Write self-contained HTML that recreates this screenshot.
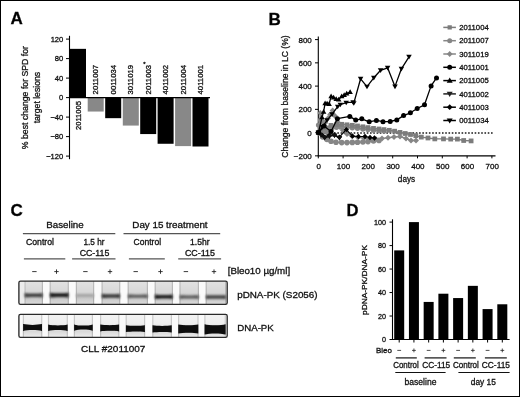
<!DOCTYPE html>
<html><head><meta charset="utf-8"><style>
html,body{margin:0;padding:0;background:#fff;}
body{width:520px;height:397px;overflow:hidden;}
svg{display:block;font-family:"Liberation Sans", sans-serif;}
text{stroke:#111;stroke-width:0.3px;}
svg{filter:grayscale(1);}
</style></head><body>
<svg width="520" height="397" viewBox="0 0 520 397" fill="#111">
<defs><filter id="bl" x="-20%" y="-50%" width="140%" height="200%"><feGaussianBlur stdDeviation="0.8"/></filter><filter id="bl2" x="-20%" y="-50%" width="140%" height="200%"><feGaussianBlur stdDeviation="0.6"/></filter><linearGradient id="lg1" x1="0" y1="281.1" x2="0" y2="304.4" gradientUnits="userSpaceOnUse"><stop offset="0" stop-color="#e2e2e2"/><stop offset="0.45" stop-color="#d8d8d8"/><stop offset="0.62" stop-color="#cfcfcf"/><stop offset="0.72" stop-color="#c9c9c9"/><stop offset="0.9" stop-color="#d3d3d3"/><stop offset="1" stop-color="#dcdcdc"/></linearGradient><linearGradient id="lg2" x1="0" y1="314.3" x2="0" y2="337.4" gradientUnits="userSpaceOnUse"><stop offset="0" stop-color="#f3f3f3"/><stop offset="0.4" stop-color="#eeeeee"/><stop offset="0.55" stop-color="#e4e4e4"/><stop offset="0.75" stop-color="#d9d9d9"/><stop offset="0.88" stop-color="#e3e3e3"/><stop offset="1" stop-color="#ededed"/></linearGradient></defs>
<rect x="0" y="0" width="520" height="397" fill="#fff"/>
<rect x="18.90" y="281.10" width="208.30" height="23.30" fill="#fafafa"/>
<rect x="24.30" y="281.10" width="18.70" height="23.30" fill="url(#lg1)"/>
<rect x="24.30" y="281.10" width="1.2" height="23.30" fill="#000" opacity="0.16"/>
<rect x="41.80" y="281.10" width="1.2" height="23.30" fill="#000" opacity="0.16"/>
<rect x="49.60" y="281.10" width="19.30" height="23.30" fill="url(#lg1)"/>
<rect x="49.60" y="281.10" width="1.2" height="23.30" fill="#000" opacity="0.16"/>
<rect x="67.70" y="281.10" width="1.2" height="23.30" fill="#000" opacity="0.16"/>
<rect x="75.80" y="281.10" width="18.40" height="23.30" fill="url(#lg1)"/>
<rect x="75.80" y="281.10" width="1.2" height="23.30" fill="#000" opacity="0.16"/>
<rect x="93.00" y="281.10" width="1.2" height="23.30" fill="#000" opacity="0.16"/>
<rect x="101.50" y="281.10" width="18.80" height="23.30" fill="url(#lg1)"/>
<rect x="101.50" y="281.10" width="1.2" height="23.30" fill="#000" opacity="0.16"/>
<rect x="119.10" y="281.10" width="1.2" height="23.30" fill="#000" opacity="0.16"/>
<rect x="127.60" y="281.10" width="20.40" height="23.30" fill="url(#lg1)"/>
<rect x="127.60" y="281.10" width="1.2" height="23.30" fill="#000" opacity="0.16"/>
<rect x="146.80" y="281.10" width="1.2" height="23.30" fill="#000" opacity="0.16"/>
<rect x="154.60" y="281.10" width="18.40" height="23.30" fill="url(#lg1)"/>
<rect x="154.60" y="281.10" width="1.2" height="23.30" fill="#000" opacity="0.16"/>
<rect x="171.80" y="281.10" width="1.2" height="23.30" fill="#000" opacity="0.16"/>
<rect x="179.40" y="281.10" width="19.60" height="23.30" fill="url(#lg1)"/>
<rect x="179.40" y="281.10" width="1.2" height="23.30" fill="#000" opacity="0.16"/>
<rect x="197.80" y="281.10" width="1.2" height="23.30" fill="#000" opacity="0.16"/>
<rect x="205.60" y="281.10" width="20.60" height="23.30" fill="url(#lg1)"/>
<rect x="205.60" y="281.10" width="1.2" height="23.30" fill="#000" opacity="0.16"/>
<rect x="225.00" y="281.10" width="1.2" height="23.30" fill="#000" opacity="0.16"/>
<rect x="18.90" y="314.30" width="208.30" height="23.10" fill="#fafafa"/>
<rect x="22.80" y="314.30" width="19.50" height="23.10" fill="url(#lg2)"/>
<rect x="22.80" y="314.30" width="1.2" height="23.10" fill="#000" opacity="0.16"/>
<rect x="41.10" y="314.30" width="1.2" height="23.10" fill="#000" opacity="0.16"/>
<rect x="47.90" y="314.30" width="20.00" height="23.10" fill="url(#lg2)"/>
<rect x="47.90" y="314.30" width="1.2" height="23.10" fill="#000" opacity="0.16"/>
<rect x="66.70" y="314.30" width="1.2" height="23.10" fill="#000" opacity="0.16"/>
<rect x="73.80" y="314.30" width="19.20" height="23.10" fill="url(#lg2)"/>
<rect x="73.80" y="314.30" width="1.2" height="23.10" fill="#000" opacity="0.16"/>
<rect x="91.80" y="314.30" width="1.2" height="23.10" fill="#000" opacity="0.16"/>
<rect x="100.00" y="314.30" width="19.40" height="23.10" fill="url(#lg2)"/>
<rect x="100.00" y="314.30" width="1.2" height="23.10" fill="#000" opacity="0.16"/>
<rect x="118.20" y="314.30" width="1.2" height="23.10" fill="#000" opacity="0.16"/>
<rect x="125.60" y="314.30" width="19.60" height="23.10" fill="url(#lg2)"/>
<rect x="125.60" y="314.30" width="1.2" height="23.10" fill="#000" opacity="0.16"/>
<rect x="144.00" y="314.30" width="1.2" height="23.10" fill="#000" opacity="0.16"/>
<rect x="152.20" y="314.30" width="19.80" height="23.10" fill="url(#lg2)"/>
<rect x="152.20" y="314.30" width="1.2" height="23.10" fill="#000" opacity="0.16"/>
<rect x="170.80" y="314.30" width="1.2" height="23.10" fill="#000" opacity="0.16"/>
<rect x="178.00" y="314.30" width="20.60" height="23.10" fill="url(#lg2)"/>
<rect x="178.00" y="314.30" width="1.2" height="23.10" fill="#000" opacity="0.16"/>
<rect x="197.40" y="314.30" width="1.2" height="23.10" fill="#000" opacity="0.16"/>
<rect x="204.30" y="314.30" width="21.60" height="23.10" fill="url(#lg2)"/>
<rect x="204.30" y="314.30" width="1.2" height="23.10" fill="#000" opacity="0.16"/>
<rect x="224.70" y="314.30" width="1.2" height="23.10" fill="#000" opacity="0.16"/>
<rect x="19.5" y="281.8" width="4.8" height="22.0" fill="#ececec"/>
<g filter="url(#bl)"><path d="M24.60,293.10 C28.58,293.80 38.72,293.80 42.70,293.10 L42.70,297.50 C38.72,296.80 28.58,296.80 24.60,297.50 Z" fill="#404040"/><path d="M49.90,292.70 C54.01,293.40 64.49,293.40 68.60,292.70 L68.60,297.50 C64.49,296.80 54.01,296.80 49.90,297.50 Z" fill="#1c1c1c"/><path d="M76.10,293.80 C80.02,294.20 89.98,294.20 93.90,293.80 L93.90,297.20 C89.98,296.80 80.02,296.80 76.10,297.20 Z" fill="#a5a5a5"/><path d="M101.80,293.80 C105.80,294.50 116.00,294.50 120.00,293.80 L120.00,298.20 C116.00,297.50 105.80,297.50 101.80,298.20 Z" fill="#3a3a3a"/><path d="M127.90,294.30 C132.26,294.90 143.34,294.90 147.70,294.30 L147.70,298.30 C143.34,297.70 132.26,297.70 127.90,298.30 Z" fill="#5a5a5a"/><path d="M154.90,294.50 C158.82,295.20 168.78,295.20 172.70,294.50 L172.70,299.10 C168.78,298.40 158.82,298.40 154.90,299.10 Z" fill="#1e1e1e"/><path d="M179.70,295.00 C183.88,295.60 194.52,295.60 198.70,295.00 L198.70,299.00 C194.52,298.40 183.88,298.40 179.70,299.00 Z" fill="#585858"/><path d="M205.90,294.90 C210.30,295.50 221.50,295.50 225.90,294.90 L225.90,299.10 C221.50,298.50 210.30,298.50 205.90,299.10 Z" fill="#464646"/></g>
<g filter="url(#bl2)"><path d="M23.10,324.10 C27.26,325.20 37.84,325.20 42.00,324.10 L42.00,330.90 C37.84,329.80 27.26,329.80 23.10,330.90 Z" fill="#080808"/><path d="M48.20,324.60 C52.47,325.80 63.33,325.80 67.60,324.60 L67.60,331.00 C63.33,329.80 52.47,329.80 48.20,331.00 Z" fill="#080808"/><path d="M74.10,324.40 C78.19,326.00 88.61,326.00 92.70,324.40 L92.70,330.80 C88.61,329.20 78.19,329.20 74.10,330.80 Z" fill="#080808"/><path d="M100.30,324.60 C104.44,325.40 114.96,325.40 119.10,324.60 L119.10,331.40 C114.96,330.60 104.44,330.60 100.30,331.40 Z" fill="#080808"/><path d="M125.90,325.20 C130.08,326.00 140.72,326.00 144.90,325.20 L144.90,332.00 C140.72,331.20 130.08,331.20 125.90,332.00 Z" fill="#080808"/><path d="M152.50,325.30 C156.72,326.10 167.48,326.10 171.70,325.30 L171.70,332.50 C167.48,331.70 156.72,331.70 152.50,332.50 Z" fill="#080808"/><path d="M178.30,324.40 C182.70,325.40 193.90,325.40 198.30,324.40 L198.30,333.60 C193.90,332.60 182.70,332.60 178.30,333.60 Z" fill="#080808"/><path d="M204.60,324.20 C209.22,325.70 220.98,325.70 225.60,324.20 L225.60,334.60 C220.98,333.10 209.22,333.10 204.60,334.60 Z" fill="#080808"/></g>
<rect x="18.90" y="281.10" width="208.30" height="23.30" fill="none" stroke="#2a2a2a" stroke-width="1.35" rx="1.6"/>
<rect x="18.90" y="314.30" width="208.30" height="23.10" fill="none" stroke="#2a2a2a" stroke-width="1.35" rx="1.6"/>
<text x="10.60" y="24.30" font-size="17" font-weight="bold" fill="#000">A</text>
<line x1="69.50" y1="35.80" x2="69.50" y2="159.20" stroke="#000" stroke-width="1.1"/>
<line x1="66.00" y1="39.10" x2="69.50" y2="39.10" stroke="#000" stroke-width="1.0"/>
<text x="63.30" y="41.85" font-size="7.6" text-anchor="end">120</text>
<line x1="66.00" y1="58.60" x2="69.50" y2="58.60" stroke="#000" stroke-width="1.0"/>
<text x="63.30" y="61.35" font-size="7.6" text-anchor="end">80</text>
<line x1="66.00" y1="78.10" x2="69.50" y2="78.10" stroke="#000" stroke-width="1.0"/>
<text x="63.30" y="80.85" font-size="7.6" text-anchor="end">40</text>
<line x1="66.00" y1="97.60" x2="69.50" y2="97.60" stroke="#000" stroke-width="1.0"/>
<text x="63.30" y="100.35" font-size="7.6" text-anchor="end">0</text>
<line x1="66.00" y1="117.10" x2="69.50" y2="117.10" stroke="#000" stroke-width="1.0"/>
<text x="63.30" y="119.85" font-size="7.6" text-anchor="end">−40</text>
<line x1="66.00" y1="136.60" x2="69.50" y2="136.60" stroke="#000" stroke-width="1.0"/>
<text x="63.30" y="139.35" font-size="7.6" text-anchor="end">−80</text>
<line x1="66.00" y1="156.10" x2="69.50" y2="156.10" stroke="#000" stroke-width="1.0"/>
<text x="63.30" y="158.85" font-size="7.6" text-anchor="end">−120</text>
<rect x="70.00" y="48.85" width="16.00" height="48.75" fill="#000"/>
<rect x="87.70" y="97.60" width="16.00" height="13.94" fill="#888"/>
<rect x="105.20" y="97.60" width="16.00" height="20.57" fill="#000"/>
<rect x="122.80" y="97.60" width="16.00" height="27.98" fill="#888"/>
<rect x="140.20" y="97.60" width="16.00" height="36.47" fill="#000"/>
<rect x="157.60" y="97.60" width="16.00" height="46.17" fill="#000"/>
<rect x="175.10" y="97.60" width="16.00" height="48.51" fill="#888"/>
<rect x="192.50" y="97.60" width="16.00" height="48.90" fill="#000"/>
<line x1="69.50" y1="97.60" x2="210.00" y2="97.60" stroke="#000" stroke-width="1.2"/>
<text x="80.60" y="101.00" font-size="7.4" text-anchor="end" textLength="29.00" lengthAdjust="spacingAndGlyphs" transform="rotate(-90 80.60 101.00)">2011005</text>
<text x="98.30" y="94.40" font-size="7.4" textLength="29.40" lengthAdjust="spacingAndGlyphs" transform="rotate(-90 98.30 94.40)">2011007</text>
<text x="115.80" y="94.40" font-size="7.4" textLength="29.40" lengthAdjust="spacingAndGlyphs" transform="rotate(-90 115.80 94.40)">0011034</text>
<text x="133.40" y="94.40" font-size="7.4" textLength="29.40" lengthAdjust="spacingAndGlyphs" transform="rotate(-90 133.40 94.40)">3011019</text>
<text x="150.80" y="94.40" font-size="7.4" textLength="29.40" lengthAdjust="spacingAndGlyphs" transform="rotate(-90 150.80 94.40)">2011003</text>
<text x="168.20" y="94.40" font-size="7.4" textLength="29.40" lengthAdjust="spacingAndGlyphs" transform="rotate(-90 168.20 94.40)">4011002</text>
<text x="185.70" y="94.40" font-size="7.4" textLength="29.40" lengthAdjust="spacingAndGlyphs" transform="rotate(-90 185.70 94.40)">2011004</text>
<text x="203.10" y="94.40" font-size="7.4" textLength="29.40" lengthAdjust="spacingAndGlyphs" transform="rotate(-90 203.10 94.40)">4011001</text>
<text x="143.20" y="65.70" font-size="6">*</text>
<text x="27.70" y="97.60" font-size="9.7" text-anchor="middle" textLength="103.20" lengthAdjust="spacingAndGlyphs" transform="rotate(-90 27.70 97.60)">% best change for SPD for</text>
<text x="39.80" y="97.60" font-size="9.7" text-anchor="middle" textLength="51.50" lengthAdjust="spacingAndGlyphs" transform="rotate(-90 39.80 97.60)">target lesions</text>
<text x="268.40" y="24.60" font-size="17" font-weight="bold" fill="#000">B</text>
<line x1="318.30" y1="36.50" x2="318.30" y2="156.00" stroke="#000" stroke-width="1.1"/>
<line x1="317.75" y1="155.85" x2="495.50" y2="155.85" stroke="#000" stroke-width="1.1"/>
<line x1="315.00" y1="39.60" x2="318.30" y2="39.60" stroke="#000" stroke-width="1.0"/>
<text x="311.80" y="42.50" font-size="8.0" text-anchor="end">800</text>
<line x1="315.00" y1="62.85" x2="318.30" y2="62.85" stroke="#000" stroke-width="1.0"/>
<text x="311.80" y="65.75" font-size="8.0" text-anchor="end">600</text>
<line x1="315.00" y1="86.10" x2="318.30" y2="86.10" stroke="#000" stroke-width="1.0"/>
<text x="311.80" y="89.00" font-size="8.0" text-anchor="end">400</text>
<line x1="315.00" y1="109.35" x2="318.30" y2="109.35" stroke="#000" stroke-width="1.0"/>
<text x="311.80" y="112.25" font-size="8.0" text-anchor="end">200</text>
<line x1="315.00" y1="132.60" x2="318.30" y2="132.60" stroke="#000" stroke-width="1.0"/>
<text x="311.80" y="135.50" font-size="8.0" text-anchor="end">0</text>
<line x1="315.00" y1="155.85" x2="318.30" y2="155.85" stroke="#000" stroke-width="1.0"/>
<text x="311.80" y="158.75" font-size="8.0" text-anchor="end">−200</text>
<line x1="318.30" y1="155.85" x2="318.30" y2="158.35" stroke="#000" stroke-width="1.0"/>
<text x="318.70" y="169.30" font-size="8.0" text-anchor="middle">0</text>
<line x1="343.10" y1="155.85" x2="343.10" y2="158.35" stroke="#000" stroke-width="1.0"/>
<text x="343.50" y="169.30" font-size="8.0" text-anchor="middle">100</text>
<line x1="367.90" y1="155.85" x2="367.90" y2="158.35" stroke="#000" stroke-width="1.0"/>
<text x="368.30" y="169.30" font-size="8.0" text-anchor="middle">200</text>
<line x1="392.70" y1="155.85" x2="392.70" y2="158.35" stroke="#000" stroke-width="1.0"/>
<text x="393.10" y="169.30" font-size="8.0" text-anchor="middle">300</text>
<line x1="417.50" y1="155.85" x2="417.50" y2="158.35" stroke="#000" stroke-width="1.0"/>
<text x="417.90" y="169.30" font-size="8.0" text-anchor="middle">400</text>
<line x1="442.30" y1="155.85" x2="442.30" y2="158.35" stroke="#000" stroke-width="1.0"/>
<text x="442.70" y="169.30" font-size="8.0" text-anchor="middle">500</text>
<line x1="467.10" y1="155.85" x2="467.10" y2="158.35" stroke="#000" stroke-width="1.0"/>
<text x="467.50" y="169.30" font-size="8.0" text-anchor="middle">600</text>
<line x1="491.90" y1="155.85" x2="491.90" y2="158.35" stroke="#000" stroke-width="1.0"/>
<text x="492.30" y="169.30" font-size="8.0" text-anchor="middle">700</text>
<text x="406.50" y="182.30" font-size="9.0" text-anchor="middle" textLength="17.30" lengthAdjust="spacingAndGlyphs">days</text>
<text x="288.40" y="96.50" font-size="8.8" text-anchor="middle" textLength="122.50" lengthAdjust="spacingAndGlyphs" transform="rotate(-90 288.40 96.50)">Change from baseline in LC (%)</text>
<line x1="317.70" y1="133.0" x2="493.0" y2="133.0" stroke="#1a1a1a" stroke-width="1.6" stroke-dasharray="1.6 1.67"/>
<polyline points="318.50,132.60 321.00,131.00 324.00,129.50 328.00,128.50 332.00,127.80 336.50,127.20 341.70,127.00 347.00,127.30 352.30,127.80 357.50,128.30 362.90,129.00 368.00,129.60 373.50,130.20 379.00,130.60 384.00,131.00" fill="none" stroke="#868686" stroke-width="1.4" stroke-linejoin="round"/>
<circle cx="318.50" cy="132.60" r="2.70" fill="#868686"/>
<circle cx="321.00" cy="131.00" r="2.70" fill="#868686"/>
<circle cx="324.00" cy="129.50" r="2.70" fill="#868686"/>
<circle cx="328.00" cy="128.50" r="2.70" fill="#868686"/>
<circle cx="332.00" cy="127.80" r="2.70" fill="#868686"/>
<circle cx="336.50" cy="127.20" r="2.70" fill="#868686"/>
<circle cx="341.70" cy="127.00" r="2.70" fill="#868686"/>
<circle cx="347.00" cy="127.30" r="2.70" fill="#868686"/>
<circle cx="352.30" cy="127.80" r="2.70" fill="#868686"/>
<circle cx="357.50" cy="128.30" r="2.70" fill="#868686"/>
<circle cx="362.90" cy="129.00" r="2.70" fill="#868686"/>
<circle cx="368.00" cy="129.60" r="2.70" fill="#868686"/>
<circle cx="373.50" cy="130.20" r="2.70" fill="#868686"/>
<circle cx="379.00" cy="130.60" r="2.70" fill="#868686"/>
<circle cx="384.00" cy="131.00" r="2.70" fill="#868686"/>
<polyline points="318.50,125.00 320.50,120.00 322.50,127.00 325.00,131.00 328.00,133.50 331.00,131.00" fill="none" stroke="#868686" stroke-width="1.4" stroke-linejoin="round"/>
<circle cx="318.50" cy="125.00" r="2.60" fill="#868686"/>
<circle cx="320.50" cy="120.00" r="2.60" fill="#868686"/>
<circle cx="322.50" cy="127.00" r="2.60" fill="#868686"/>
<circle cx="325.00" cy="131.00" r="2.60" fill="#868686"/>
<circle cx="328.00" cy="133.50" r="2.60" fill="#868686"/>
<circle cx="331.00" cy="131.00" r="2.60" fill="#868686"/>
<polyline points="318.50,132.60 322.70,137.00 327.00,139.50 331.00,141.30 336.00,142.20 341.70,142.60 347.00,142.60 352.30,142.40 357.50,142.20 362.90,142.00 368.00,141.60 373.50,141.00 379.00,140.40" fill="none" stroke="#868686" stroke-width="1.4" stroke-linejoin="round"/>
<circle cx="318.50" cy="132.60" r="2.80" fill="#868686"/>
<circle cx="322.70" cy="137.00" r="2.80" fill="#868686"/>
<circle cx="327.00" cy="139.50" r="2.80" fill="#868686"/>
<circle cx="331.00" cy="141.30" r="2.80" fill="#868686"/>
<circle cx="336.00" cy="142.20" r="2.80" fill="#868686"/>
<circle cx="341.70" cy="142.60" r="2.80" fill="#868686"/>
<circle cx="347.00" cy="142.60" r="2.80" fill="#868686"/>
<circle cx="352.30" cy="142.40" r="2.80" fill="#868686"/>
<circle cx="357.50" cy="142.20" r="2.80" fill="#868686"/>
<circle cx="362.90" cy="142.00" r="2.80" fill="#868686"/>
<circle cx="368.00" cy="141.60" r="2.80" fill="#868686"/>
<circle cx="373.50" cy="141.00" r="2.80" fill="#868686"/>
<circle cx="379.00" cy="140.40" r="2.80" fill="#868686"/>
<polyline points="318.50,132.60 320.30,113.00 322.50,121.00 325.00,123.00 328.00,118.20 330.20,114.50 332.60,110.50 335.00,116.00 337.50,122.00 340.00,127.00 343.00,130.50 347.00,134.00 352.00,136.00 358.00,137.20 364.00,138.00 370.00,138.80 376.00,139.20 382.00,138.50 388.00,137.80 394.00,137.00 400.00,136.50 406.00,138.50 411.00,140.50 416.00,140.50" fill="none" stroke="#868686" stroke-width="1.4" stroke-linejoin="round"/>
<polygon points="318.50,129.61 321.49,132.60 318.50,135.59 315.51,132.60" fill="#868686"/>
<polygon points="320.30,110.01 323.29,113.00 320.30,115.99 317.31,113.00" fill="#868686"/>
<polygon points="322.50,118.01 325.49,121.00 322.50,123.99 319.51,121.00" fill="#868686"/>
<polygon points="325.00,120.01 327.99,123.00 325.00,125.99 322.01,123.00" fill="#868686"/>
<polygon points="328.00,115.21 330.99,118.20 328.00,121.19 325.01,118.20" fill="#868686"/>
<polygon points="330.20,111.51 333.19,114.50 330.20,117.49 327.21,114.50" fill="#868686"/>
<polygon points="332.60,107.51 335.59,110.50 332.60,113.49 329.61,110.50" fill="#868686"/>
<polygon points="335.00,113.01 337.99,116.00 335.00,118.99 332.01,116.00" fill="#868686"/>
<polygon points="337.50,119.01 340.49,122.00 337.50,124.99 334.51,122.00" fill="#868686"/>
<polygon points="340.00,124.01 342.99,127.00 340.00,129.99 337.01,127.00" fill="#868686"/>
<polygon points="343.00,127.51 345.99,130.50 343.00,133.49 340.01,130.50" fill="#868686"/>
<polygon points="347.00,131.01 349.99,134.00 347.00,136.99 344.01,134.00" fill="#868686"/>
<polygon points="352.00,133.01 354.99,136.00 352.00,138.99 349.01,136.00" fill="#868686"/>
<polygon points="358.00,134.21 360.99,137.20 358.00,140.19 355.01,137.20" fill="#868686"/>
<polygon points="364.00,135.01 366.99,138.00 364.00,140.99 361.01,138.00" fill="#868686"/>
<polygon points="370.00,135.81 372.99,138.80 370.00,141.79 367.01,138.80" fill="#868686"/>
<polygon points="376.00,136.21 378.99,139.20 376.00,142.19 373.01,139.20" fill="#868686"/>
<polygon points="382.00,135.51 384.99,138.50 382.00,141.49 379.01,138.50" fill="#868686"/>
<polygon points="388.00,134.81 390.99,137.80 388.00,140.79 385.01,137.80" fill="#868686"/>
<polygon points="394.00,134.01 396.99,137.00 394.00,139.99 391.01,137.00" fill="#868686"/>
<polygon points="400.00,133.51 402.99,136.50 400.00,139.49 397.01,136.50" fill="#868686"/>
<polygon points="406.00,135.51 408.99,138.50 406.00,141.49 403.01,138.50" fill="#868686"/>
<polygon points="411.00,137.51 413.99,140.50 411.00,143.49 408.01,140.50" fill="#868686"/>
<polygon points="416.00,137.51 418.99,140.50 416.00,143.49 413.01,140.50" fill="#868686"/>
<polyline points="318.50,132.60 320.50,129.00 324.80,127.50 331.00,125.40 336.50,124.50 341.70,124.30 347.00,124.80 352.30,125.30 357.50,126.00 362.90,126.80 368.00,127.60 373.50,128.40 379.00,129.00 384.00,129.60 389.30,130.30 394.60,131.20 400.00,132.40 405.20,133.50 410.50,134.50 415.80,135.60 421.30,137.10 428.00,138.00 434.80,138.90 443.50,138.90 450.70,139.10 457.40,139.10 463.70,140.50 471.10,140.90" fill="none" stroke="#7c7c7c" stroke-width="1.4" stroke-linejoin="round"/>
<rect x="316.12" y="130.22" width="4.76" height="4.76" fill="#7c7c7c"/>
<rect x="318.12" y="126.62" width="4.76" height="4.76" fill="#7c7c7c"/>
<rect x="322.42" y="125.12" width="4.76" height="4.76" fill="#7c7c7c"/>
<rect x="328.62" y="123.02" width="4.76" height="4.76" fill="#7c7c7c"/>
<rect x="334.12" y="122.12" width="4.76" height="4.76" fill="#7c7c7c"/>
<rect x="339.32" y="121.92" width="4.76" height="4.76" fill="#7c7c7c"/>
<rect x="344.62" y="122.42" width="4.76" height="4.76" fill="#7c7c7c"/>
<rect x="349.92" y="122.92" width="4.76" height="4.76" fill="#7c7c7c"/>
<rect x="355.12" y="123.62" width="4.76" height="4.76" fill="#7c7c7c"/>
<rect x="360.52" y="124.42" width="4.76" height="4.76" fill="#7c7c7c"/>
<rect x="365.62" y="125.22" width="4.76" height="4.76" fill="#7c7c7c"/>
<rect x="371.12" y="126.02" width="4.76" height="4.76" fill="#7c7c7c"/>
<rect x="376.62" y="126.62" width="4.76" height="4.76" fill="#7c7c7c"/>
<rect x="381.62" y="127.22" width="4.76" height="4.76" fill="#7c7c7c"/>
<rect x="386.92" y="127.92" width="4.76" height="4.76" fill="#7c7c7c"/>
<rect x="392.22" y="128.82" width="4.76" height="4.76" fill="#7c7c7c"/>
<rect x="397.62" y="130.02" width="4.76" height="4.76" fill="#7c7c7c"/>
<rect x="402.82" y="131.12" width="4.76" height="4.76" fill="#7c7c7c"/>
<rect x="408.12" y="132.12" width="4.76" height="4.76" fill="#7c7c7c"/>
<rect x="413.42" y="133.22" width="4.76" height="4.76" fill="#7c7c7c"/>
<rect x="418.92" y="134.72" width="4.76" height="4.76" fill="#7c7c7c"/>
<rect x="425.62" y="135.62" width="4.76" height="4.76" fill="#7c7c7c"/>
<rect x="432.42" y="136.52" width="4.76" height="4.76" fill="#7c7c7c"/>
<rect x="441.12" y="136.52" width="4.76" height="4.76" fill="#7c7c7c"/>
<rect x="448.32" y="136.72" width="4.76" height="4.76" fill="#7c7c7c"/>
<rect x="455.02" y="136.72" width="4.76" height="4.76" fill="#7c7c7c"/>
<rect x="461.32" y="138.12" width="4.76" height="4.76" fill="#7c7c7c"/>
<rect x="468.72" y="138.52" width="4.76" height="4.76" fill="#7c7c7c"/>
<polyline points="318.50,132.60 321.70,134.80 324.80,137.20 329.20,135.40 334.50,134.90 339.30,137.20 346.30,129.70 352.50,136.20 358.50,136.50 365.00,136.50 370.00,137.50 374.50,138.00" fill="none" stroke="#000" stroke-width="1.2" stroke-linejoin="round"/>
<polygon points="318.50,129.95 321.14,132.60 318.50,135.25 315.86,132.60" fill="#000"/>
<polygon points="321.70,132.16 324.34,134.80 321.70,137.45 319.06,134.80" fill="#000"/>
<polygon points="324.80,134.55 327.44,137.20 324.80,139.84 322.16,137.20" fill="#000"/>
<polygon points="329.20,132.75 331.84,135.40 329.20,138.05 326.56,135.40" fill="#000"/>
<polygon points="334.50,132.25 337.14,134.90 334.50,137.55 331.86,134.90" fill="#000"/>
<polygon points="339.30,134.55 341.94,137.20 339.30,139.84 336.66,137.20" fill="#000"/>
<polygon points="346.30,127.05 348.94,129.70 346.30,132.34 343.66,129.70" fill="#000"/>
<polygon points="352.50,133.55 355.14,136.20 352.50,138.84 349.86,136.20" fill="#000"/>
<polygon points="358.50,133.85 361.14,136.50 358.50,139.15 355.86,136.50" fill="#000"/>
<polygon points="365.00,133.85 367.64,136.50 365.00,139.15 362.36,136.50" fill="#000"/>
<polygon points="370.00,134.85 372.64,137.50 370.00,140.15 367.36,137.50" fill="#000"/>
<polygon points="374.50,135.35 377.14,138.00 374.50,140.65 371.86,138.00" fill="#000"/>
<polyline points="318.50,132.60 321.00,135.00 324.50,137.80 329.50,136.50 334.50,135.50 339.50,138.00" fill="none" stroke="#111" stroke-width="1.2" stroke-linejoin="round"/>
<polygon points="318.50,135.36 321.26,130.67 315.74,130.67" fill="#111"/>
<polygon points="321.00,137.76 323.76,133.07 318.24,133.07" fill="#111"/>
<polygon points="324.50,140.56 327.26,135.87 321.74,135.87" fill="#111"/>
<polygon points="329.50,139.26 332.26,134.57 326.74,134.57" fill="#111"/>
<polygon points="334.50,138.26 337.26,133.57 331.74,133.57" fill="#111"/>
<polygon points="339.50,140.76 342.26,136.07 336.74,136.07" fill="#111"/>
<polyline points="318.50,132.60 324.00,126.00 331.00,131.50 337.40,118.70 349.80,116.40 355.70,120.10 361.80,118.80 369.20,121.80 376.40,120.40 383.00,121.70 390.20,121.50 396.80,119.90 403.60,115.60 410.40,112.80 417.20,108.50 424.50,104.80 431.10,85.90 436.50,77.90" fill="none" stroke="#000" stroke-width="1.3" stroke-linejoin="round"/>
<circle cx="318.50" cy="132.60" r="2.50" fill="#000"/>
<circle cx="324.00" cy="126.00" r="2.50" fill="#000"/>
<circle cx="331.00" cy="131.50" r="2.50" fill="#000"/>
<circle cx="337.40" cy="118.70" r="2.50" fill="#000"/>
<circle cx="349.80" cy="116.40" r="2.50" fill="#000"/>
<circle cx="355.70" cy="120.10" r="2.50" fill="#000"/>
<circle cx="361.80" cy="118.80" r="2.50" fill="#000"/>
<circle cx="369.20" cy="121.80" r="2.50" fill="#000"/>
<circle cx="376.40" cy="120.40" r="2.50" fill="#000"/>
<circle cx="383.00" cy="121.70" r="2.50" fill="#000"/>
<circle cx="390.20" cy="121.50" r="2.50" fill="#000"/>
<circle cx="396.80" cy="119.90" r="2.50" fill="#000"/>
<circle cx="403.60" cy="115.60" r="2.50" fill="#000"/>
<circle cx="410.40" cy="112.80" r="2.50" fill="#000"/>
<circle cx="417.20" cy="108.50" r="2.50" fill="#000"/>
<circle cx="424.50" cy="104.80" r="2.50" fill="#000"/>
<circle cx="431.10" cy="85.90" r="2.50" fill="#000"/>
<circle cx="436.50" cy="77.90" r="2.50" fill="#000"/>
<polyline points="318.50,132.60 322.00,117.20 323.60,111.70 325.10,103.30 327.10,103.60 329.10,104.10 331.10,96.30 333.60,97.60 336.20,99.10 338.70,99.60 341.70,96.30 344.20,95.10 346.70,93.50 350.10,92.00" fill="none" stroke="#000" stroke-width="1.3" stroke-linejoin="round"/>
<polygon points="318.50,129.84 321.26,134.53 315.74,134.53" fill="#000"/>
<polygon points="322.00,114.44 324.76,119.13 319.24,119.13" fill="#000"/>
<polygon points="323.60,108.94 326.36,113.63 320.84,113.63" fill="#000"/>
<polygon points="325.10,100.54 327.86,105.23 322.34,105.23" fill="#000"/>
<polygon points="327.10,100.84 329.86,105.53 324.34,105.53" fill="#000"/>
<polygon points="329.10,101.34 331.86,106.03 326.34,106.03" fill="#000"/>
<polygon points="331.10,93.54 333.86,98.23 328.34,98.23" fill="#000"/>
<polygon points="333.60,94.84 336.36,99.53 330.84,99.53" fill="#000"/>
<polygon points="336.20,96.34 338.96,101.03 333.44,101.03" fill="#000"/>
<polygon points="338.70,96.84 341.46,101.53 335.94,101.53" fill="#000"/>
<polygon points="341.70,93.54 344.46,98.23 338.94,98.23" fill="#000"/>
<polygon points="344.20,92.34 346.96,97.03 341.44,97.03" fill="#000"/>
<polygon points="346.70,90.74 349.46,95.43 343.94,95.43" fill="#000"/>
<polygon points="350.10,89.24 352.86,93.93 347.34,93.93" fill="#000"/>
<polyline points="318.50,132.60 322.50,127.00 327.00,120.30 332.10,114.20 337.70,106.60 340.30,104.60 346.20,102.60 353.10,102.10 353.80,103.10 360.60,78.80 367.00,86.60 373.80,77.80 380.60,70.30 387.60,67.80 395.00,86.40 401.40,68.80 409.00,56.80" fill="none" stroke="#000" stroke-width="1.3" stroke-linejoin="round"/>
<polygon points="318.50,135.36 321.26,130.67 315.74,130.67" fill="#000"/>
<polygon points="322.50,129.76 325.26,125.07 319.74,125.07" fill="#000"/>
<polygon points="327.00,123.06 329.76,118.37 324.24,118.37" fill="#000"/>
<polygon points="332.10,116.96 334.86,112.27 329.34,112.27" fill="#000"/>
<polygon points="337.70,109.36 340.46,104.67 334.94,104.67" fill="#000"/>
<polygon points="340.30,107.36 343.06,102.67 337.54,102.67" fill="#000"/>
<polygon points="346.20,105.36 348.96,100.67 343.44,100.67" fill="#000"/>
<polygon points="353.10,104.86 355.86,100.17 350.34,100.17" fill="#000"/>
<polygon points="353.80,105.86 356.56,101.17 351.04,101.17" fill="#000"/>
<polygon points="360.60,81.56 363.36,76.87 357.84,76.87" fill="#000"/>
<polygon points="367.00,89.36 369.76,84.67 364.24,84.67" fill="#000"/>
<polygon points="373.80,80.56 376.56,75.87 371.04,75.87" fill="#000"/>
<polygon points="380.60,73.06 383.36,68.37 377.84,68.37" fill="#000"/>
<polygon points="387.60,70.56 390.36,65.87 384.84,65.87" fill="#000"/>
<polygon points="395.00,89.16 397.76,84.47 392.24,84.47" fill="#000"/>
<polygon points="401.40,71.56 404.16,66.87 398.64,66.87" fill="#000"/>
<polygon points="409.00,59.56 411.76,54.87 406.24,54.87" fill="#000"/>
<line x1="443.30" y1="27.40" x2="455.90" y2="27.40" stroke="#7c7c7c" stroke-width="1.5"/>
<rect x="447.57" y="25.27" width="4.25" height="4.25" fill="#7c7c7c"/>
<text x="459.30" y="30.10" font-size="7.6" textLength="29.40" lengthAdjust="spacingAndGlyphs">2011004</text>
<line x1="443.30" y1="40.70" x2="455.90" y2="40.70" stroke="#868686" stroke-width="1.5"/>
<circle cx="449.70" cy="40.70" r="2.50" fill="#868686"/>
<text x="459.30" y="43.40" font-size="7.6" textLength="29.40" lengthAdjust="spacingAndGlyphs">2011007</text>
<line x1="443.30" y1="54.00" x2="455.90" y2="54.00" stroke="#868686" stroke-width="1.5"/>
<polygon points="449.70,51.12 452.57,54.00 449.70,56.88 446.82,54.00" fill="#868686"/>
<text x="459.30" y="56.70" font-size="7.6" textLength="29.40" lengthAdjust="spacingAndGlyphs">3011019</text>
<line x1="443.30" y1="67.30" x2="455.90" y2="67.30" stroke="#000" stroke-width="1.5"/>
<circle cx="449.70" cy="67.30" r="2.50" fill="#000"/>
<text x="459.30" y="70.00" font-size="7.6" textLength="29.40" lengthAdjust="spacingAndGlyphs">4011001</text>
<line x1="443.30" y1="80.60" x2="455.90" y2="80.60" stroke="#000" stroke-width="1.5"/>
<polygon points="449.70,77.60 452.70,82.70 446.70,82.70" fill="#000"/>
<text x="459.30" y="83.30" font-size="7.6" textLength="29.40" lengthAdjust="spacingAndGlyphs">2011005</text>
<line x1="443.30" y1="93.90" x2="455.90" y2="93.90" stroke="#222" stroke-width="1.5"/>
<polygon points="449.70,96.90 452.70,91.80 446.70,91.80" fill="#222"/>
<text x="459.30" y="96.60" font-size="7.6" textLength="29.40" lengthAdjust="spacingAndGlyphs">4011002</text>
<line x1="443.30" y1="107.20" x2="455.90" y2="107.20" stroke="#000" stroke-width="1.5"/>
<polygon points="449.70,104.33 452.57,107.20 449.70,110.08 446.82,107.20" fill="#000"/>
<text x="459.30" y="109.90" font-size="7.6" textLength="29.40" lengthAdjust="spacingAndGlyphs">4011003</text>
<line x1="443.30" y1="120.50" x2="455.90" y2="120.50" stroke="#000" stroke-width="1.5"/>
<polygon points="449.70,123.50 452.70,118.40 446.70,118.40" fill="#000"/>
<text x="459.30" y="123.20" font-size="7.6" textLength="29.40" lengthAdjust="spacingAndGlyphs">0011034</text>
<text x="10.60" y="215.80" font-size="17" font-weight="bold" fill="#000">C</text>
<text x="46.30" y="228.00" font-size="9.3" textLength="37.40" lengthAdjust="spacingAndGlyphs">Baseline</text>
<text x="132.30" y="228.00" font-size="9.2" textLength="75.30" lengthAdjust="spacingAndGlyphs">Day 15 treatment</text>
<line x1="22.90" y1="233.70" x2="115.30" y2="233.70" stroke="#555" stroke-width="1.3"/>
<line x1="123.50" y1="233.70" x2="220.20" y2="233.70" stroke="#555" stroke-width="1.3"/>
<text x="26.00" y="244.90" font-size="8.6" textLength="28.00" lengthAdjust="spacingAndGlyphs">Control</text>
<text x="83.50" y="245.00" font-size="8.6" textLength="21.00" lengthAdjust="spacingAndGlyphs">1.5 hr</text>
<text x="79.70" y="255.80" font-size="8.6" textLength="29.60" lengthAdjust="spacingAndGlyphs">CC-115</text>
<text x="133.60" y="244.90" font-size="8.6" textLength="27.50" lengthAdjust="spacingAndGlyphs">Control</text>
<text x="190.10" y="245.00" font-size="8.6" textLength="19.50" lengthAdjust="spacingAndGlyphs">1.5hr</text>
<text x="184.90" y="255.90" font-size="8.6" textLength="30.00" lengthAdjust="spacingAndGlyphs">CC-115</text>
<line x1="23.90" y1="258.90" x2="65.30" y2="258.90" stroke="#555" stroke-width="1.3"/>
<line x1="72.10" y1="258.90" x2="115.50" y2="258.90" stroke="#555" stroke-width="1.3"/>
<line x1="128.90" y1="258.90" x2="164.80" y2="258.90" stroke="#555" stroke-width="1.3"/>
<line x1="178.20" y1="258.90" x2="221.10" y2="258.90" stroke="#555" stroke-width="1.3"/>
<line x1="32.20" y1="271.60" x2="36.60" y2="271.60" stroke="#222" stroke-width="0.9"/>
<line x1="54.30" y1="271.60" x2="58.70" y2="271.60" stroke="#222" stroke-width="0.9"/>
<line x1="56.50" y1="269.40" x2="56.50" y2="273.80" stroke="#222" stroke-width="0.9"/>
<line x1="83.20" y1="271.60" x2="87.60" y2="271.60" stroke="#222" stroke-width="0.9"/>
<line x1="107.80" y1="271.60" x2="112.20" y2="271.60" stroke="#222" stroke-width="0.9"/>
<line x1="110.00" y1="269.40" x2="110.00" y2="273.80" stroke="#222" stroke-width="0.9"/>
<line x1="133.50" y1="271.60" x2="137.90" y2="271.60" stroke="#222" stroke-width="0.9"/>
<line x1="158.30" y1="271.60" x2="162.70" y2="271.60" stroke="#222" stroke-width="0.9"/>
<line x1="160.50" y1="269.40" x2="160.50" y2="273.80" stroke="#222" stroke-width="0.9"/>
<line x1="183.70" y1="271.60" x2="188.10" y2="271.60" stroke="#222" stroke-width="0.9"/>
<line x1="211.80" y1="271.60" x2="216.20" y2="271.60" stroke="#222" stroke-width="0.9"/>
<line x1="214.00" y1="269.40" x2="214.00" y2="273.80" stroke="#222" stroke-width="0.9"/>
<text x="227.70" y="274.00" font-size="9.4" textLength="62.40" lengthAdjust="spacingAndGlyphs">[Bleo10 µg/ml]</text>
<text x="237.20" y="298.40" font-size="9.5" textLength="80.40" lengthAdjust="spacingAndGlyphs">pDNA-PK (S2056)</text>
<text x="237.20" y="331.20" font-size="9.5" textLength="36.60" lengthAdjust="spacingAndGlyphs">DNA-PK</text>
<text x="81.10" y="351.60" font-size="9.5" textLength="64.30" lengthAdjust="spacingAndGlyphs">CLL #2011007</text>
<text x="346.60" y="215.60" font-size="16.6" font-weight="bold" fill="#000">D</text>
<line x1="392.50" y1="219.30" x2="392.50" y2="340.00" stroke="#000" stroke-width="1.1"/>
<line x1="389.50" y1="222.10" x2="392.50" y2="222.10" stroke="#000" stroke-width="1.0"/>
<text x="386.00" y="224.60" font-size="7.2" text-anchor="end">100</text>
<line x1="389.50" y1="245.58" x2="392.50" y2="245.58" stroke="#000" stroke-width="1.0"/>
<text x="386.00" y="248.08" font-size="7.2" text-anchor="end">80</text>
<line x1="389.50" y1="269.06" x2="392.50" y2="269.06" stroke="#000" stroke-width="1.0"/>
<text x="386.00" y="271.56" font-size="7.2" text-anchor="end">60</text>
<line x1="389.50" y1="292.54" x2="392.50" y2="292.54" stroke="#000" stroke-width="1.0"/>
<text x="386.00" y="295.04" font-size="7.2" text-anchor="end">40</text>
<line x1="389.50" y1="316.02" x2="392.50" y2="316.02" stroke="#000" stroke-width="1.0"/>
<text x="386.00" y="318.52" font-size="7.2" text-anchor="end">20</text>
<line x1="389.50" y1="339.50" x2="392.50" y2="339.50" stroke="#000" stroke-width="1.0"/>
<text x="386.00" y="342.00" font-size="7.2" text-anchor="end">0</text>
<rect x="394.20" y="250.39" width="10.00" height="89.11" fill="#000"/>
<line x1="399.20" y1="339.50" x2="399.20" y2="342.50" stroke="#000" stroke-width="1.0"/>
<rect x="408.93" y="222.10" width="10.00" height="117.40" fill="#000"/>
<line x1="413.93" y1="339.50" x2="413.93" y2="342.50" stroke="#000" stroke-width="1.0"/>
<rect x="423.66" y="301.93" width="10.00" height="37.57" fill="#000"/>
<line x1="428.66" y1="339.50" x2="428.66" y2="342.50" stroke="#000" stroke-width="1.0"/>
<rect x="438.39" y="293.71" width="10.00" height="45.79" fill="#000"/>
<line x1="443.39" y1="339.50" x2="443.39" y2="342.50" stroke="#000" stroke-width="1.0"/>
<rect x="453.12" y="298.06" width="10.00" height="41.44" fill="#000"/>
<line x1="458.12" y1="339.50" x2="458.12" y2="342.50" stroke="#000" stroke-width="1.0"/>
<rect x="467.85" y="285.85" width="10.00" height="53.65" fill="#000"/>
<line x1="472.85" y1="339.50" x2="472.85" y2="342.50" stroke="#000" stroke-width="1.0"/>
<rect x="482.58" y="309.09" width="10.00" height="30.41" fill="#000"/>
<line x1="487.58" y1="339.50" x2="487.58" y2="342.50" stroke="#000" stroke-width="1.0"/>
<rect x="497.31" y="304.28" width="10.00" height="35.22" fill="#000"/>
<line x1="502.31" y1="339.50" x2="502.31" y2="342.50" stroke="#000" stroke-width="1.0"/>
<line x1="392.00" y1="339.50" x2="509.60" y2="339.50" stroke="#000" stroke-width="1.1"/>
<text x="367.30" y="280.00" font-size="7.3" text-anchor="middle" textLength="70.00" lengthAdjust="spacingAndGlyphs" transform="rotate(-90 367.30 280.00)">pDNA-PK/DNA-PK</text>
<text x="376.00" y="352.90" font-size="7.6" textLength="15.90" lengthAdjust="spacingAndGlyphs">Bleo</text>
<line x1="397.30" y1="350.40" x2="401.10" y2="350.40" stroke="#222" stroke-width="0.8"/>
<line x1="412.03" y1="350.40" x2="415.83" y2="350.40" stroke="#222" stroke-width="0.8"/>
<line x1="413.93" y1="348.50" x2="413.93" y2="352.30" stroke="#222" stroke-width="0.8"/>
<line x1="426.76" y1="350.40" x2="430.56" y2="350.40" stroke="#222" stroke-width="0.8"/>
<line x1="441.49" y1="350.40" x2="445.29" y2="350.40" stroke="#222" stroke-width="0.8"/>
<line x1="443.39" y1="348.50" x2="443.39" y2="352.30" stroke="#222" stroke-width="0.8"/>
<line x1="456.22" y1="350.40" x2="460.02" y2="350.40" stroke="#222" stroke-width="0.8"/>
<line x1="470.95" y1="350.40" x2="474.75" y2="350.40" stroke="#222" stroke-width="0.8"/>
<line x1="472.85" y1="348.50" x2="472.85" y2="352.30" stroke="#222" stroke-width="0.8"/>
<line x1="485.68" y1="350.40" x2="489.48" y2="350.40" stroke="#222" stroke-width="0.8"/>
<line x1="500.41" y1="350.40" x2="504.21" y2="350.40" stroke="#222" stroke-width="0.8"/>
<line x1="502.31" y1="348.50" x2="502.31" y2="352.30" stroke="#222" stroke-width="0.8"/>
<line x1="395.80" y1="357.90" x2="416.80" y2="357.90" stroke="#111" stroke-width="1.2"/>
<line x1="424.60" y1="357.90" x2="446.50" y2="357.90" stroke="#111" stroke-width="1.2"/>
<line x1="453.80" y1="357.90" x2="475.80" y2="357.90" stroke="#111" stroke-width="1.2"/>
<line x1="484.90" y1="357.90" x2="506.80" y2="357.90" stroke="#111" stroke-width="1.2"/>
<text x="393.20" y="368.00" font-size="8.7" textLength="25.60" lengthAdjust="spacingAndGlyphs">Control</text>
<text x="422.20" y="368.00" font-size="8.7" textLength="28.00" lengthAdjust="spacingAndGlyphs">CC-115</text>
<text x="452.90" y="368.00" font-size="8.7" textLength="26.00" lengthAdjust="spacingAndGlyphs">Control</text>
<text x="481.80" y="368.00" font-size="8.7" textLength="28.20" lengthAdjust="spacingAndGlyphs">CC-115</text>
<line x1="395.30" y1="372.50" x2="445.60" y2="372.50" stroke="#111" stroke-width="1.2"/>
<line x1="458.40" y1="372.50" x2="509.60" y2="372.50" stroke="#111" stroke-width="1.2"/>
<text x="404.60" y="385.00" font-size="8.6" textLength="31.80" lengthAdjust="spacingAndGlyphs">baseline</text>
<text x="470.80" y="384.60" font-size="8.6" textLength="25.10" lengthAdjust="spacingAndGlyphs">day 15</text>
<rect x="0.5" y="0.5" width="519" height="396" fill="none" stroke="#000" stroke-width="1"/>
</svg>
</body></html>
